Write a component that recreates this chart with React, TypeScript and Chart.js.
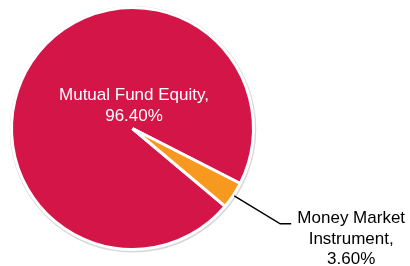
import React, { useEffect, useRef } from "react";
import { Chart, registerables } from "chart.js";

Chart.register(...registerables);

const categories = ["Mutual Fund Equity", "Money Market Instrument"];
const values = [96.4, 3.6];
const valueLabels = ["96.40%", "3.60%"];
const colors = ["#D31548", "#F7981F"];

const labelPlugin = {
  id: "customLabels",
  beforeDatasetsDraw(chart: any) {
    const meta = chart.getDatasetMeta(0);
    const arc = meta.data[0];
    if (!arc) return;
    const { x, y, outerRadius } = arc.getProps(["x", "y", "outerRadius"], true);
    const ctx = chart.ctx;
    ctx.save();
    ctx.beginPath();
    ctx.arc(x + 0.5, y + 0.8, outerRadius + 1, 0, Math.PI * 2);
    ctx.strokeStyle = "rgba(140,140,140,0.35)";
    ctx.lineWidth = 2.5;
    ctx.stroke();
    ctx.restore();
  },
  afterDatasetsDraw(chart: any) {
    const meta = chart.getDatasetMeta(0);
    const ctx = chart.ctx;
    const a0 = meta.data[0];
    const a1 = meta.data[1];
    const p0 = a0.getProps(["x", "y", "outerRadius"], true);
    ctx.save();
    ctx.textAlign = "center";
    ctx.textBaseline = "middle";
    ctx.font = "17px 'Liberation Sans', Arial, sans-serif";
    // inner label for big slice
    ctx.fillStyle = "#ffffff";
    ctx.fillText(categories[0] + ",", p0.x + 1.5, p0.y - 33.5);
    ctx.fillText(valueLabels[0], p0.x + 1.5, p0.y - 12.5);

    // leader line + outside label for small slice
    const p1 = a1.getProps(["x", "y", "startAngle", "endAngle", "outerRadius"], true);
    const mid = (p1.startAngle + p1.endAngle) / 2;
    const sx = p1.x + Math.cos(mid) * (p1.outerRadius + 1);
    const sy = p1.y + Math.sin(mid) * (p1.outerRadius + 1);
    const ex = sx + 46;
    const ey = sy + 28;
    ctx.beginPath();
    ctx.moveTo(sx, sy);
    ctx.lineTo(ex, ey);
    ctx.lineTo(ex + 11, ey);
    ctx.strokeStyle = "#000000";
    ctx.lineWidth = 1.5;
    ctx.stroke();
    ctx.fillStyle = "#000000";
    const tx = ex + 71;
    ctx.fillText("Money Market", tx, ey - 6);
    ctx.fillText("Instrument,", tx, ey + 15);
    ctx.fillText(valueLabels[1], tx, ey + 35);
    ctx.restore();
  },
};

export default function App() {
  const ref = useRef<HTMLCanvasElement>(null);
  useEffect(() => {
    document.body.style.margin = "0";
    const chart = new Chart(ref.current as HTMLCanvasElement, {
      type: "pie",
      data: {
        labels: categories,
        datasets: [
          {
            data: values,
            backgroundColor: colors,
            borderColor: "#ffffff",
            borderWidth: 3,
            radius: 121,
          } as any,
        ],
      },
      options: {
        responsive: false,
        animation: false,
        rotation: 130,
        layout: { padding: { left: 0, right: 145, top: 0, bottom: 9 } },
        plugins: {
          legend: { display: false },
          tooltip: { enabled: false },
        },
      },
      plugins: [labelPlugin],
    });
    return () => chart.destroy();
  }, []);
  return (
    <div style={{ width: 410, height: 266, background: "#fff" }}>
      <canvas ref={ref} width={410} height={266} />
    </div>
  );
}
